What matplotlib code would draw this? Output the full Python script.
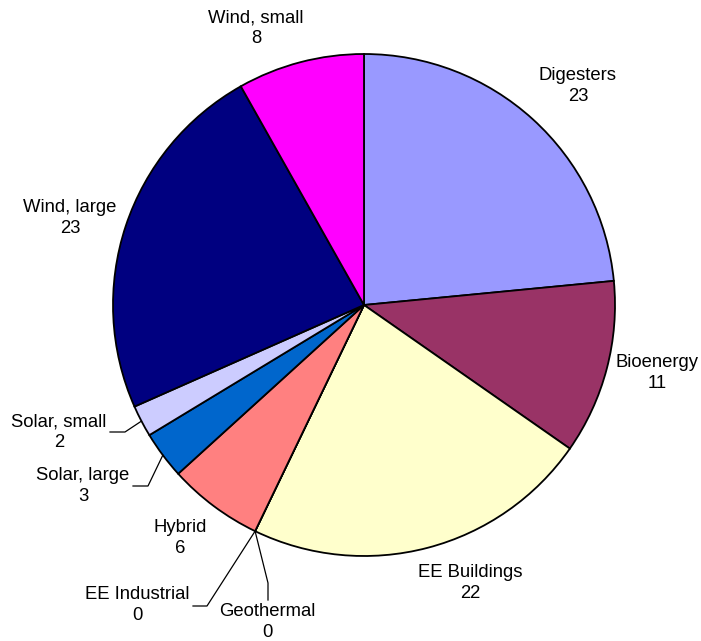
import numpy as np
import matplotlib
matplotlib.use("Agg")
import matplotlib.pyplot as plt

plt.rcParams['font.family'] = ['Liberation Sans', 'DejaVu Sans']

# data
categories = ['Digesters', 'Bioenergy', 'EE Buildings', 'Geothermal', 'EE Industrial',
              'Hybrid', 'Solar, large', 'Solar, small', 'Wind, large', 'Wind, small']
values = [23, 11, 22, 0, 0, 6, 3, 2, 23, 8]
colors = ['#9999FF', '#993366', '#FFFFCC', '#FFFFFF', '#FFFFFF',
          '#FF8080', '#0066CC', '#CCCCFF', '#000080', '#FF00FF']

W, H = 701, 641
cx, cy, R = 364, H - 305, 251

# label centres in pixels (top-left origin), placed like the original
label_pos = {
    'Digesters': (578, 86), 'Bioenergy': (657, 373), 'EE Buildings': (470, 583),
    'Geothermal': (267, 622), 'EE Industrial': (137, 605), 'Hybrid': (180, 538),
    'Solar, large': (83, 486), 'Solar, small': (59, 432), 'Wind, large': (70, 218),
    'Wind, small': (256, 28),
}
# leader lines: label side end and elbow, pixels
leaders = {
    'Solar, small': [(110, 432), (125, 432)],
    'Solar, large': [(133, 486), (148, 486)],
    'EE Industrial': [(193, 606), (207, 606)],
    'Geothermal': [(268, 600), (268, 583)],
}

fig = plt.figure(figsize=(W / 100, H / 100), dpi=100)
ax = fig.add_axes([0, 0, 1, 1])

wedges, _ = ax.pie(values, colors=colors, startangle=90, counterclock=False,
                   center=(cx, cy), radius=R, frame=True,
                   wedgeprops=dict(edgecolor='black', linewidth=1.3))
ax.set_xlim(0, W)
ax.set_ylim(0, H)
ax.set_aspect('equal')
ax.axis('off')

for name, val, w in zip(categories, values, wedges):
    px, py = label_pos[name]
    ax.text(px, H - py, f'{name}\n{val}', ha='center', va='center',
            fontsize=13.3, linespacing=1.3)
    if name in leaders:
        mid = np.deg2rad((w.theta1 + w.theta2) / 2)
        ex, ey = cx + R * np.cos(mid), cy + R * np.sin(mid)
        (x0, y0), (x1, y1) = leaders[name]
        ax.plot([x0, x1, ex], [H - y0, H - y1, ey], color='black', lw=0.9)

fig.savefig('out.png', dpi=100)
